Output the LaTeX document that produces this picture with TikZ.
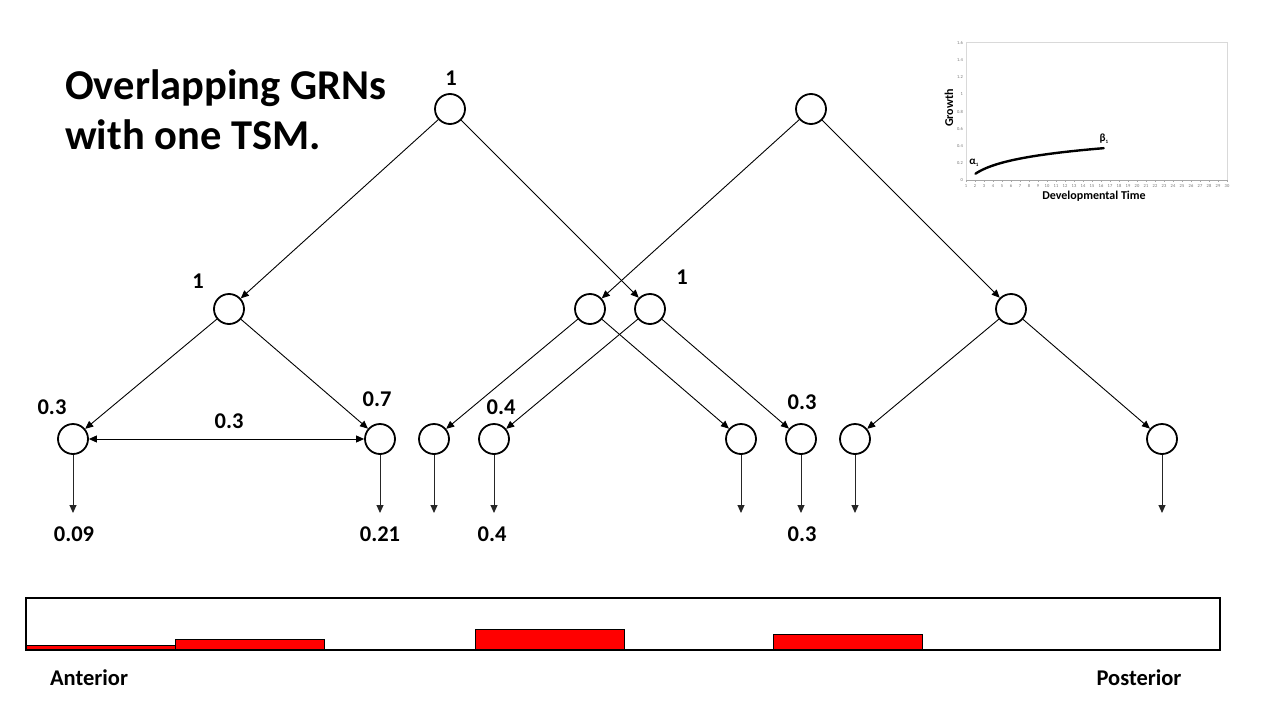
\documentclass[tikz,border=0pt]{standalone}
\usepackage{fontspec}
\setmainfont{Carlito}
\usetikzlibrary{arrows.meta}
\begin{document}
\begin{tikzpicture}[x=1pt,y=-1pt,
  gene/.style={circle,draw,line width=1.8pt,minimum size=30pt,inner sep=0pt},
  edge/.style={-{Triangle[length=8pt,width=7pt]},line width=0.9pt},
  dbledge/.style={{Triangle[length=8pt,width=7pt]}-{Triangle[length=8pt,width=7pt]},line width=0.9pt},
  outarrow/.style={-{Triangle[length=8pt,width=7pt]},line width=1pt,black!85},
  lbl/.style={font=\fontsize{22.5}{26}\selectfont\bfseries,inner sep=0pt},
  ttl/.style={font=\fontsize{42.5}{50}\selectfont\bfseries,inner sep=0pt,align=left},
  bar/.style={fill=red,draw=black,line width=0.8pt},
  tick/.style={font=\fontsize{4.5}{5}\selectfont,text=black!55,inner sep=0pt},
  axlbl/.style={font=\fontsize{12}{14}\selectfont\bfseries,inner sep=0pt},
  greek/.style={font=\fontsize{11}{12}\selectfont\bfseries,inner sep=0pt}
]
\useasboundingbox (0,0) rectangle (1280,720);
\fill[white] (0,0) rectangle (1280,720);

% title
\node[ttl,anchor=base west] (title) at (65,149) {Overlapping GRNs\\with one TSM.};

% genes
\node[gene] (a) at (450,109) {};
\node[gene] (b) at (811,109) {};
\node[gene] (c) at (229,309) {};
\node[gene] (d) at (590,309) {};
\node[gene] (e) at (650,309) {};
\node[gene] (f) at (1011,309) {};
\node[gene] (g1) at (73,439) {};
\node[gene] (g2) at (380,439) {};
\node[gene] (g3) at (434,439) {};
\node[gene] (g4) at (494,439) {};
\node[gene] (g5) at (741,439) {};
\node[gene] (g6) at (801,439) {};
\node[gene] (g7) at (855,439) {};
\node[gene] (g8) at (1162,439) {};

\draw[edge] (a) -- (c);
\draw[edge] (a) -- (e);
\draw[edge] (b) -- (d);
\draw[edge] (b) -- (f);
\draw[edge] (c) -- (g1);
\draw[edge] (c) -- (g2);
\draw[edge] (d) -- (g3);
\draw[edge] (d) -- (g5);
\draw[edge] (e) -- (g4);
\draw[edge] (e) -- (g6);
\draw[edge] (f) -- (g7);
\draw[edge] (f) -- (g8);
\draw[dbledge] (g1) -- (g2);

\foreach \n/\xx in {1/73,2/380,3/434,4/494,5/741,6/801,7/855,8/1162}{
  \coordinate (o\n) at (\xx,513);
  \draw[outarrow] (g\n) -- (o\n);
}

% labels
\node[lbl] (la) at (451,78) {1};
\node[lbl] (lc) at (198,281) {1};
\node[lbl] (le) at (682,277) {1};
\node[lbl] (lg1) at (52,407) {0.3};
\node[lbl] (lg2) at (377,399) {0.7};
\node[lbl] (lgg) at (229,421) {0.3};
\node[lbl] (lg4) at (501,407) {0.4};
\node[lbl] (lg6) at (802,402) {0.3};
\node[lbl] (lo1) at (74,534) {0.09};
\node[lbl] (lo2) at (380,534) {0.21};
\node[lbl] (lo4) at (492,534) {0.4};
\node[lbl] (lo6) at (802,534) {0.3};

% bar strip
\draw[bar] (26,645) rectangle (175,650);
\draw[bar] (175,639) rectangle (324,650);
\draw[bar] (475,629) rectangle (624,650);
\draw[bar] (773,634) rectangle (922,650);
\draw[line width=1.2pt] (26,598) rectangle (1220,650);
\node[lbl] (ant) at (89,678) {Anterior};
\node[lbl] (post) at (1139,678) {Posterior};

% inset chart
\draw[black!15,line width=0.5pt] (966,42) rectangle (1227,180);
\draw[black!35,line width=0.5pt] (966,180) -- (1227,180);
\foreach \v [count=\i] in {0,0.2,0.4,0.6,0.8,1,1.2,1.4,1.6}{
  \node[tick,anchor=east] (yt\i) at (963,{180-85.6*(\i-1)*0.2}) {\v};
}
\foreach \k in {1,...,30}{
  \draw[black!35,line width=0.4pt] ({966+9*(\k-1)},180) -- ({966+9*(\k-1)},182);
  \node[tick] (xt\k) at ({966+9*(\k-1)},186) {\k};
}
\draw[line width=2.4pt,line cap=round] plot[domain=2.05:16.3,samples=50,smooth]
  ({966+9*(\x-1)},{180-85.6*(-0.03+0.144*ln(\x))});
\node[greek] (alpha) at (974,163) {α\raisebox{-2pt}{\fontsize{5}{5}\selectfont 1}};
\node[greek] (beta) at (1104,139) {β\raisebox{-2pt}{\fontsize{5}{5}\selectfont 1}};
\node[axlbl,rotate=90] (growth) at (949,108) {Growth};
\node[axlbl] (devt) at (1094,196) {Developmental Time};
\end{tikzpicture}
\end{document}
